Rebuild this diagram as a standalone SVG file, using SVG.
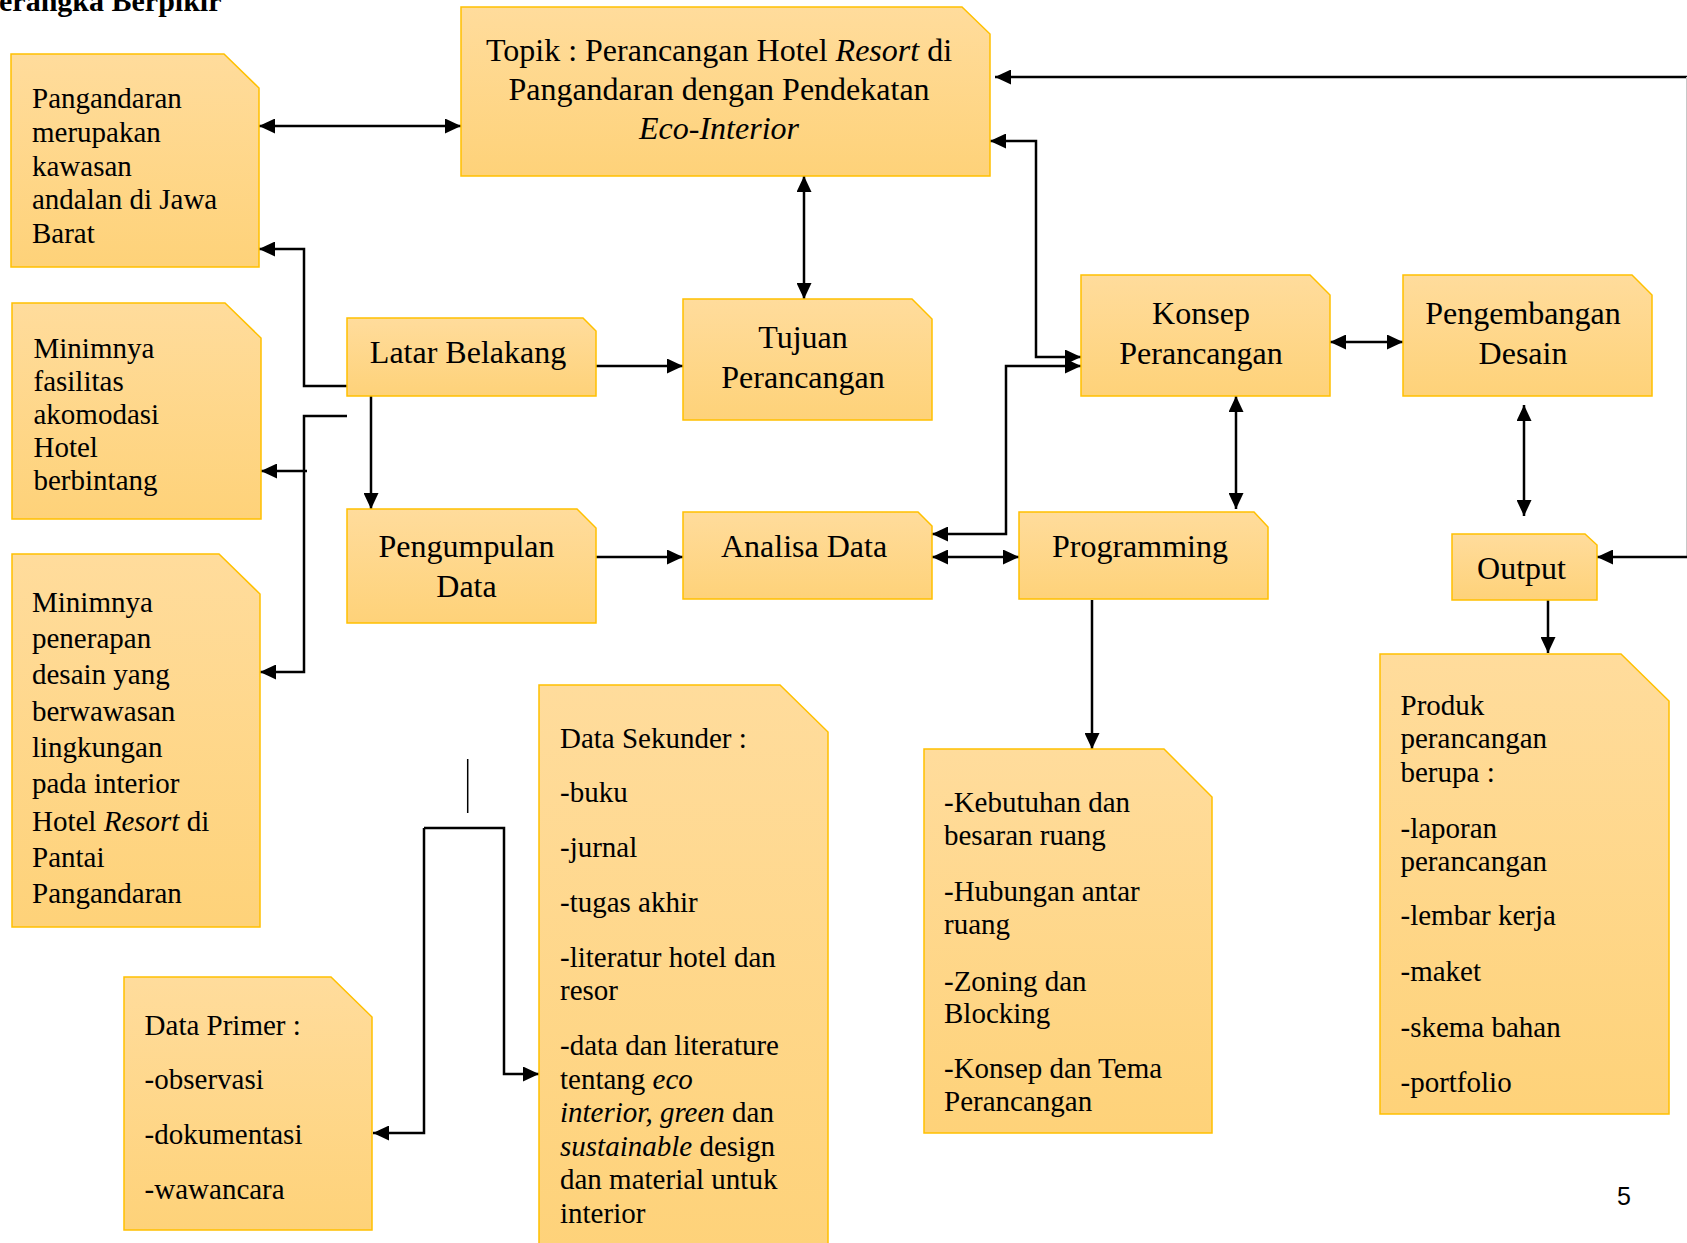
<svg xmlns="http://www.w3.org/2000/svg" width="1687" height="1243" viewBox="0 0 1687 1243">
<style>
.box{fill:url(#g);stroke:#FFC000;stroke-width:1.5}
text{font-family:"Liberation Serif","Times New Roman",serif;fill:#000}
.t{font-size:32px;text-anchor:middle}
.s{font-size:29px}
.c{fill:none;stroke:#000;stroke-width:2.5}
.i{font-style:italic}
</style>
<defs>
<linearGradient id="g" x1="0" y1="0" x2="0" y2="1">
<stop offset="0" stop-color="#FFDC9C"/>
<stop offset="1" stop-color="#FED279"/>
</linearGradient>
<marker id="a" viewBox="0 0 16 15" refX="16" refY="7.5" markerWidth="16" markerHeight="15" markerUnits="userSpaceOnUse" orient="auto-start-reverse">
<path d="M0,0 L16,7.5 L0,15 z" fill="#000"/>
</marker>
</defs>
<rect width="1687" height="1243" fill="#fff"/>
<text x="-1" y="11" style="font-size:30px;font-weight:bold">erangka Berpikir</text>

<g id="connectors">
<path class="c" d="M259,126 H461" marker-start="url(#a)" marker-end="url(#a)"/>
<path class="c" d="M347,386 H304 V249 H259" marker-end="url(#a)"/>
<path class="c" d="M347,416 H304 V672 H260" marker-end="url(#a)"/>
<path class="c" d="M307,471 H261" marker-end="url(#a)"/>
<path class="c" d="M804,176 V299" marker-start="url(#a)" marker-end="url(#a)"/>
<path class="c" d="M596,366 H683" marker-end="url(#a)"/>
<path class="c" d="M371,396 V509" marker-end="url(#a)"/>
<path class="c" d="M596,557 H683" marker-end="url(#a)"/>
<path class="c" d="M932,557 H1019" marker-start="url(#a)" marker-end="url(#a)"/>
<path class="c" d="M932,534 H1006 V366 H1081" marker-start="url(#a)" marker-end="url(#a)"/>
<path class="c" d="M990,141 H1036 V357 H1081" marker-start="url(#a)" marker-end="url(#a)"/>
<path class="c" d="M1687,77 H995" marker-end="url(#a)"/>
<line x1="1686.5" y1="77" x2="1686.5" y2="557" stroke="#c8c8c8" stroke-width="1"/>
<path class="c" d="M1687,557 H1597" marker-end="url(#a)"/>
<path class="c" d="M1330,342 H1403" marker-start="url(#a)" marker-end="url(#a)"/>
<path class="c" d="M1236,396 V509" marker-start="url(#a)" marker-end="url(#a)"/>
<path class="c" d="M1524,405 V516" marker-start="url(#a)" marker-end="url(#a)"/>
<path class="c" d="M1092,600 V749" marker-end="url(#a)"/>
<path class="c" d="M1548,600 V653" marker-end="url(#a)"/>
<line x1="467.7" y1="759" x2="467.7" y2="813" stroke="#000" stroke-width="1.5"/>
<path class="c" d="M424,828 H504 V1074 H539" marker-end="url(#a)"/>
<path class="c" d="M424,828 V1133 H373" marker-end="url(#a)"/>
</g>

<g id="pangandaran">
<path class="box" d="M11,54 H224 L259,88 V267 H11 Z"/>
<text class="s" x="32"><tspan x="32" y="108">Pangandaran</tspan><tspan x="32" y="142">merupakan</tspan><tspan x="32" y="176">kawasan</tspan><tspan x="32" y="209">andalan di Jawa</tspan><tspan x="32" y="243">Barat</tspan></text>
</g>

<g id="topik">
<path class="box" d="M461,7 H962 L990,34 V176 H461 Z"/>
<text class="t"><tspan x="719" y="61">Topik : Perancangan Hotel <tspan class="i">Resort</tspan> di</tspan><tspan x="719" y="100">Pangandaran dengan Pendekatan</tspan><tspan x="719" y="139" class="i">Eco-Interior</tspan></text>
</g>

<g id="fasilitas">
<path class="box" d="M12,303 H225 L261,338 V519 H12 Z"/>
<text class="s"><tspan x="33.5" y="358">Minimnya</tspan><tspan x="33.5" y="391">fasilitas</tspan><tspan x="33.5" y="424">akomodasi</tspan><tspan x="33.5" y="457">Hotel</tspan><tspan x="33.5" y="490">berbintang</tspan></text>
</g>

<g id="penerapan">
<path class="box" d="M12,554 H219 L260,594 V927 H12 Z"/>
<text class="s"><tspan x="32" y="612">Minimnya</tspan><tspan x="32" y="648">penerapan</tspan><tspan x="32" y="684">desain yang</tspan><tspan x="32" y="720.5">berwawasan</tspan><tspan x="32" y="757">lingkungan</tspan><tspan x="32" y="793">pada interior</tspan><tspan x="32" y="830.5">Hotel <tspan class="i">Resort</tspan> di</tspan><tspan x="32" y="867">Pantai</tspan><tspan x="32" y="903">Pangandaran</tspan></text>
</g>

<g id="latar">
<path class="box" d="M347,318 H583 L596,331 V396 H347 Z"/>
<text class="t" x="468" y="363">Latar Belakang</text>
</g>

<g id="tujuan">
<path class="box" d="M683,299 H912 L932,319 V420 H683 Z"/>
<text class="t"><tspan x="803" y="348">Tujuan</tspan><tspan x="803" y="388">Perancangan</tspan></text>
</g>

<g id="pengumpulan">
<path class="box" d="M347,509 H577 L596,528 V623 H347 Z"/>
<text class="t"><tspan x="466.5" y="557">Pengumpulan</tspan><tspan x="466.5" y="597">Data</tspan></text>
</g>

<g id="analisa">
<path class="box" d="M683,512 H918 L932,526 V599 H683 Z"/>
<text class="t" x="804" y="557">Analisa Data</text>
</g>

<g id="konsep">
<path class="box" d="M1081,275 H1310 L1330,295 V396 H1081 Z"/>
<text class="t"><tspan x="1201" y="324">Konsep</tspan><tspan x="1201" y="364">Perancangan</tspan></text>
</g>

<g id="pengembangan">
<path class="box" d="M1403,275 H1632 L1652,295 V396 H1403 Z"/>
<text class="t"><tspan x="1523" y="324">Pengembangan</tspan><tspan x="1523" y="364">Desain</tspan></text>
</g>

<g id="programming">
<path class="box" d="M1019,512 H1254 L1268,527 V599 H1019 Z"/>
<text class="t" x="1140" y="557">Programming</text>
</g>

<g id="output">
<path class="box" d="M1452,534 H1585 L1597,545 V600 H1452 Z"/>
<text class="t" x="1521.5" y="579">Output</text>
</g>

<g id="kebutuhan">
<path class="box" d="M924,749 H1164 L1212,797 V1133 H924 Z"/>
<text class="s"><tspan x="944" y="812">-Kebutuhan dan</tspan><tspan x="944" y="845">besaran ruang</tspan><tspan x="944" y="901">-Hubungan antar</tspan><tspan x="944" y="934">ruang</tspan><tspan x="944" y="991">-Zoning dan</tspan><tspan x="944" y="1023">Blocking</tspan><tspan x="944" y="1078">-Konsep dan Tema</tspan><tspan x="944" y="1111">Perancangan</tspan></text>
</g>

<g id="produk">
<path class="box" d="M1380,654 H1621 L1669,701 V1114 H1380 Z"/>
<text class="s"><tspan x="1400.5" y="715">Produk</tspan><tspan x="1400.5" y="748">perancangan</tspan><tspan x="1400.5" y="782">berupa :</tspan><tspan x="1400.5" y="838">-laporan</tspan><tspan x="1400.5" y="871">perancangan</tspan><tspan x="1400.5" y="925">-lembar kerja</tspan><tspan x="1400.5" y="981">-maket</tspan><tspan x="1400.5" y="1037">-skema bahan</tspan><tspan x="1400.5" y="1092">-portfolio</tspan></text>
</g>

<g id="sekunder">
<path class="box" d="M539,685 H780 L828,732 V1260 H539 Z"/>
<text class="s"><tspan x="560" y="748">Data Sekunder :</tspan><tspan x="560" y="802">-buku</tspan><tspan x="560" y="857">-jurnal</tspan><tspan x="560" y="912">-tugas akhir</tspan><tspan x="560" y="967">-literatur hotel dan</tspan><tspan x="560" y="1000">resor</tspan><tspan x="560" y="1055">-data dan literature</tspan><tspan x="560" y="1089">tentang <tspan class="i">eco</tspan></tspan><tspan x="560" y="1122"><tspan class="i">interior, green</tspan> dan</tspan><tspan x="560" y="1156"><tspan class="i">sustainable</tspan> design</tspan><tspan x="560" y="1189">dan material untuk</tspan><tspan x="560" y="1223">interior</tspan></text>
</g>

<g id="primer">
<path class="box" d="M124,977 H331 L372,1017 V1230 H124 Z"/>
<text class="s"><tspan x="144.6" y="1035">Data Primer :</tspan><tspan x="144.6" y="1089">-observasi</tspan><tspan x="144.6" y="1144">-dokumentasi</tspan><tspan x="144.6" y="1199">-wawancara</tspan></text>
</g>

<text x="1624" y="1205" style="font-family:'Liberation Sans','Open Sans',sans-serif;font-size:25px;text-anchor:middle">5</text>
</svg>
